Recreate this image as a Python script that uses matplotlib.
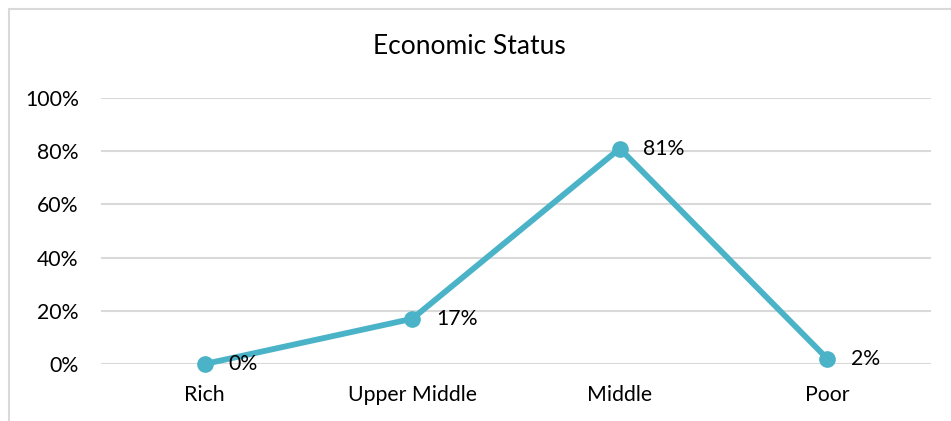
import matplotlib.pyplot as plt
from matplotlib.patches import Rectangle
from matplotlib.ticker import PercentFormatter

categories = ["Rich", "Upper Middle", "Middle", "Poor"]
values = [0.0, 0.17, 0.81, 0.02]
labels = ["0%", "17%", "81%", "2%"]
yticks = [0, 0.2, 0.4, 0.6, 0.8, 1.0]

plt.rcParams['font.family'] = ['Lato', 'DejaVu Sans']

fig = plt.figure(figsize=(9.51, 4.21), dpi=100)
ax = fig.add_axes([0.1062, 0.1354, 0.8728, 0.6318])

# outer chart frame (left and top edges visible)
fig.patches.append(Rectangle((9 / 951, -0.1), 1.2, 1.1 - 9 / 421,
                             transform=fig.transFigure, fill=False,
                             edgecolor="#d9d9d9", linewidth=1.5))

x = list(range(len(categories)))
ax.plot(x, values, color="#4bb3c8", linewidth=4.2, marker="o", markersize=11,
        solid_capstyle="round", zorder=3, clip_on=False)
for xi, v, lab in zip(x, values, labels):
    ax.annotate(lab, (xi, v), xytext=(17, 0), textcoords="offset points",
                ha="left", va="center", fontsize=15.3, color="black")

ax.set_xlim(-0.5, len(categories) - 0.5)
ax.set_ylim(0, 1)
ax.set_yticks(yticks)
ax.yaxis.set_major_formatter(PercentFormatter(1.0, decimals=0))
ax.set_xticks(x)
ax.set_xticklabels(categories)
ax.tick_params(axis="both", length=0, labelsize=15.3, colors="black")
ax.tick_params(axis="y", pad=16)
ax.tick_params(axis="x", pad=15)
ax.grid(axis="y", color="#d9d9d9", linewidth=1.5)
ax.set_axisbelow(True)
for s in ax.spines.values():
    s.set_visible(False)

fig.text(0.494, 0.89, "Economic Status", ha="center", va="center", fontsize=19)

fig.savefig("out.png", dpi=100)
